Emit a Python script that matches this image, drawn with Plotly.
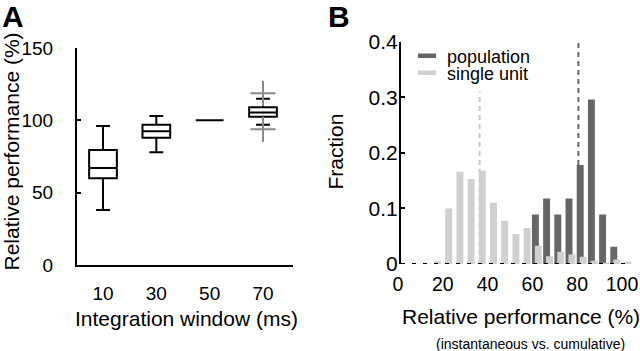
import plotly.graph_objects as go

# ---------------- Panel A data (box summaries) ----------------
windows = ["10", "30", "50", "70"]
q1 = [60, 88, 100, 102.5]
median = [67, 92.5, 100, 105.5]
q3 = [79.5, 97, 100, 109]
lower_whisker = [38, 78, 100, 97]
upper_whisker = [96, 103, 100, 115]
outlier_window = ["70", "70"]
outlier_value = [118.7, 93.8]

# ---------------- Panel B data (histograms) ----------------
bin_centers = list(range(0, 101, 5))
population = [0, 0, 0, 0, 0, 0, 0, 0, 0, 0, 0, 0,
              0.089, 0.118, 0.089, 0.118, 0.178, 0.296, 0.089, 0.031, 0]
single_unit = [0, 0, 0, 0.005, 0.100, 0.166, 0.153, 0.168, 0.110, 0.078, 0.054,
               0.065, 0.033, 0.014, 0.022, 0.017, 0.013, 0.006, 0.001, 0.008, 0.004]
median_population = 79.2
median_single_unit = 35.1
line_top_population = 0.4
line_top_single_unit = 0.31

FONT = "Liberation Sans, Arial, Helvetica, sans-serif"
DARK = "#666666"
LIGHT = "#d0d0d0"
W, H = 640, 351

def px(x):
    return x / W

def py(y):
    return 1 - y / H

fig = go.Figure()

# Panel A boxes
fig.add_trace(go.Box(
    x=windows, q1=q1, median=median, q3=q3,
    lowerfence=lower_whisker, upperfence=upper_whisker,
    width=0.52, whiskerwidth=0.5, boxpoints=False,
    line=dict(color="black", width=2), fillcolor="white",
    showlegend=False, xaxis="x", yaxis="y", hoverinfo="skip"))
fig.add_trace(go.Scatter(
    x=outlier_window, y=outlier_value, mode="markers",
    marker=dict(symbol="cross-thin", size=18, line=dict(width=2, color="#8a8a8a")),
    showlegend=False, xaxis="x", yaxis="y", cliponaxis=False))

# Panel B bars
bar_w = 3.1
fig.add_trace(go.Bar(
    x=bin_centers, y=population, width=bar_w, offset=-bar_w / 2,
    marker=dict(color=DARK, line=dict(width=0)),
    showlegend=False, xaxis="x2", yaxis="y2"))
fig.add_trace(go.Bar(
    x=bin_centers, y=single_unit, width=bar_w, offset=-bar_w / 2 + 1.3,
    marker=dict(color=LIGHT, line=dict(width=0)),
    showlegend=False, xaxis="x2", yaxis="y2"))

# Legend entries (thin bar symbols)
fig.add_trace(go.Scatter(
    x=[None], y=[None], mode="markers", name="population",
    marker=dict(symbol="line-ew", size=13, line=dict(width=4.5, color=DARK)),
    legend="legend", xaxis="x2", yaxis="y2"))
fig.add_trace(go.Scatter(
    x=[None], y=[None], mode="markers", name="single unit",
    marker=dict(symbol="line-ew", size=13, line=dict(width=4.5, color=LIGHT)),
    legend="legend2", xaxis="x2", yaxis="y2"))

shapes = [
    dict(type="line", xref="x2", yref="y2", x0=median_single_unit, x1=median_single_unit,
         y0=0, y1=line_top_single_unit, layer="below",
         line=dict(color="#c8c8c8", width=2, dash="5px,4px")),
    dict(type="line", xref="x2", yref="y2", x0=median_population, x1=median_population,
         y0=0, y1=line_top_population, layer="below",
         line=dict(color=DARK, width=2, dash="5px,4px")),
    dict(type="line", xref="x2", yref="y2", x0=0, x1=100, y0=0, y1=0, layer="above",
         line=dict(color="black", width=2, dash="4px,7px")),
]

tickfont = dict(family=FONT, size=19, color="black")
tickfont_bx = dict(family=FONT, size=19.5, color="black")
tickfont_by = dict(family=FONT, size=21, color="black")
titlefont = dict(family=FONT, size=21, color="black")

annotations = [
    dict(text="<b>A</b>", x=px(0), y=py(17), xref="paper", yref="paper",
         xanchor="left", yanchor="middle", showarrow=False,
         font=dict(family=FONT, size=30, color="black")),
    dict(text="<b>B</b>", x=px(326), y=py(17), xref="paper", yref="paper",
         xanchor="left", yanchor="middle", showarrow=False,
         font=dict(family=FONT, size=30, color="black")),
    dict(text="Relative performance (%)", x=px(11), y=py(151.5), xref="paper", yref="paper",
         xanchor="center", yanchor="middle", textangle=-90, showarrow=False, font=titlefont),
    dict(text="Integration window (ms)", x=px(186.5), y=py(318), xref="paper", yref="paper",
         xanchor="center", yanchor="middle", showarrow=False, font=titlefont),
    dict(text="Fraction", x=px(335), y=py(151.5), xref="paper", yref="paper",
         xanchor="center", yanchor="middle", textangle=-90, showarrow=False, font=titlefont),
    dict(text="Relative performance (%)", x=px(521), y=py(316.5), xref="paper", yref="paper",
         xanchor="center", yanchor="middle", showarrow=False, font=titlefont),
    dict(text="(instantaneous vs. cumulative)", x=px(530), y=py(343.5), xref="paper", yref="paper",
         xanchor="center", yanchor="middle", showarrow=False,
         font=dict(family=FONT, size=14, color="black")),
]

x2_range_max = 100 * (633 - 401) / (625 - 401)

fig.update_layout(
    width=W, height=H, autosize=False,
    margin=dict(l=0, r=0, t=0, b=0, autoexpand=False),
    paper_bgcolor="white", plot_bgcolor="white",
    font=dict(family=FONT, color="black"),
    barmode="overlay",
    xaxis=dict(domain=[px(77), px(293)], anchor="y", type="category",
               categoryorder="array", categoryarray=windows, automargin=False,
               range=[-0.4875, 3.5625], showline=True, linecolor="black", linewidth=2,
               ticks="", showgrid=False, zeroline=False, tickfont=tickfont,
               ticklabelstandoff=10),
    yaxis=dict(domain=[py(265), py(48)], anchor="x", range=[0, 150], automargin=False,
               tickvals=[0, 50, 100, 150], ticks="inside", ticklen=4, tickwidth=1.5,
               tickcolor="black", showline=True, linecolor="black", linewidth=2,
               showgrid=False, zeroline=False, tickfont=tickfont, ticklabelstandoff=18),
    xaxis2=dict(domain=[px(401), px(633)], anchor="y2", range=[0, x2_range_max],
                automargin=False, ticklabeloverflow="allow", ticklabelshift=-3,
                tickvals=[0, 20, 40, 60, 80, 100], ticks="", showline=False,
                showgrid=False, zeroline=False, tickfont=tickfont_bx, ticklabelstandoff=6),
    yaxis2=dict(domain=[py(264), py(41.7)], anchor="x2", range=[0, 0.4], automargin=False,
                tickvals=[0, 0.1, 0.2, 0.3, 0.4], ticktext=["0", "0.1", "0.2", "0.3", "0.4"],
                ticks="inside", ticklen=4, tickwidth=1.5, tickcolor="black",
                showline=True, linecolor="black", linewidth=2, showgrid=False,
                zeroline=False, tickfont=tickfont_by, ticklabelstandoff=-3),
    legend=dict(x=px(407), y=py(56), xanchor="left", yanchor="middle",
                bgcolor="rgba(0,0,0,0)", font=dict(family=FONT, size=18, color="black"),
                borderwidth=0),
    legend2=dict(x=px(407), y=py(73), xanchor="left", yanchor="middle",
                 bgcolor="rgba(0,0,0,0)", font=dict(family=FONT, size=18, color="black"),
                 borderwidth=0),
    shapes=shapes,
    annotations=annotations,
)

fig.write_html("out.html", config={"displayModeBar": False},
               post_script="document.body.style.margin='0';document.body.style.overflow='hidden';")
